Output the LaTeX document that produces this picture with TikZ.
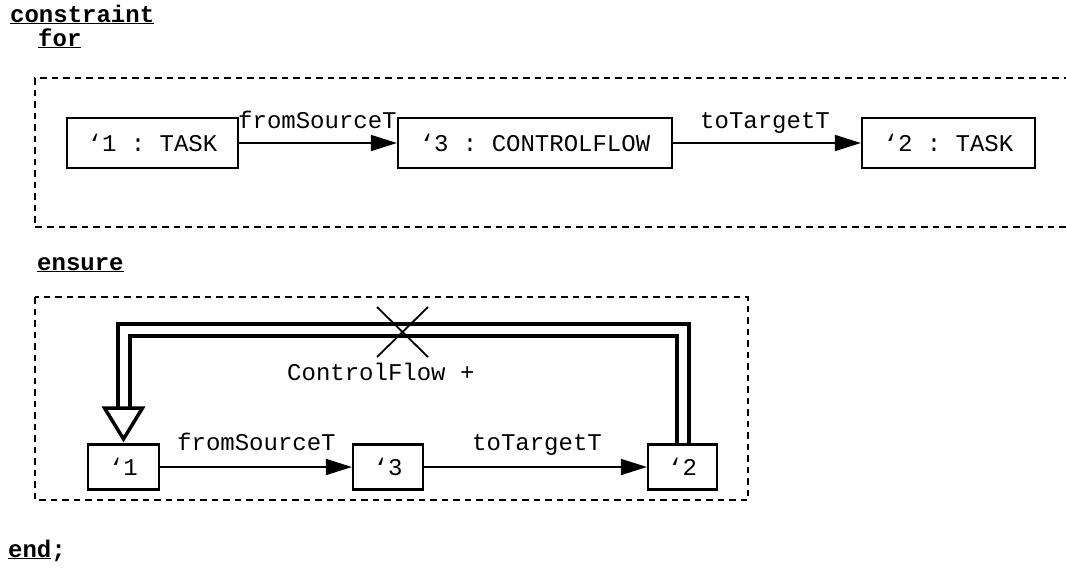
\documentclass[tikz,border=0pt]{standalone}
\usepackage{fontspec}
\setmonofont{Liberation Mono}
\usetikzlibrary{arrows.meta,calc}

\tikzset{
  txt/.style={font=\ttfamily\fontsize{24}{28}\selectfont, inner sep=0pt},
  kw/.style={font=\ttfamily\bfseries\fontsize{24}{28}\selectfont, inner sep=0pt, anchor=base west},
  obj/.style={draw, line width=2.2pt, txt, minimum height=#1},
  obj/.default=50pt,
  link/.style={line width=1.8pt, -{Triangle[length=26pt,width=16pt]}},
  frame/.style={line width=2pt, dash pattern=on 6.5pt off 5pt},
  twin/.style={line width=4pt, double distance=8pt, line join=miter},
  cross/.style={line width=1.8pt}
}

\begin{document}
\begin{tikzpicture}[x=1pt,y=-1pt]
\useasboundingbox (0,0) rectangle (1066,571);

% keywords
\node[kw] (kcons) at (10,22) {\underline{constraint}};
\node[kw] (kfor) at (38,46) {\underline{for}};
\node[kw] (kens) at (37,270) {\underline{ensure}};
\node[kw] (kend) at (8,557) {\underline{end};};

% for-part: pattern frame (open to the right)
\draw[frame] (1070,78) -- (35,78) -- (35,227) -- (1070,227);

\node[obj, minimum width=171pt] (t1) at (152.5,143) {‘1 : TASK};
\node[obj, minimum width=274pt] (t3) at (535,143) {‘3 : CONTROLFLOW};
\node[obj, minimum width=173pt] (t2) at (948.5,143) {‘2 : TASK};

\draw[link] (t1) -- (t3);
\draw[link] (t3) -- (t2);
\node[txt, anchor=base west] (lf1) at (238,128) {fromSourceT};
\node[txt, anchor=base west] (lt1) at (700,128) {toTargetT};

% ensure-part frame
\draw[frame] (35,297) rectangle (748,500);

\node[obj=45pt, minimum width=71pt] (b1) at (123.5,467) {‘1};
\node[obj=45pt, minimum width=70pt] (b3) at (388,467) {‘3};
\node[obj=45pt, minimum width=69pt] (b2) at (682.5,467) {‘2};

\draw[link] (b1) -- (b3);
\draw[link] (b3) -- (b2);
\node[txt, anchor=base west] (lf2) at (177,450) {fromSourceT};
\node[txt, anchor=base west] (lt2) at (472,450) {toTargetT};

% negated ControlFlow edge from '2 back to '1
\coordinate (top) at (0,330);
\coordinate (hb) at (123.5,409);
\coordinate (tip) at (123.5,439);
\draw[twin] (b2.north) -- (b2.north |- top) -- (hb |- top) -- (hb);
\draw[line width=3.5pt, fill=white, line join=miter]
  ($(hb)+(-19,-1)$) -- ($(hb)+(19,-1)$) -- (tip) -- cycle;

\draw[cross] (377,307) -- (428,357) (377,357) -- (428,307);
\node[txt, anchor=base west] (lcf) at (287,380) {ControlFlow +};
\end{tikzpicture}
\end{document}
